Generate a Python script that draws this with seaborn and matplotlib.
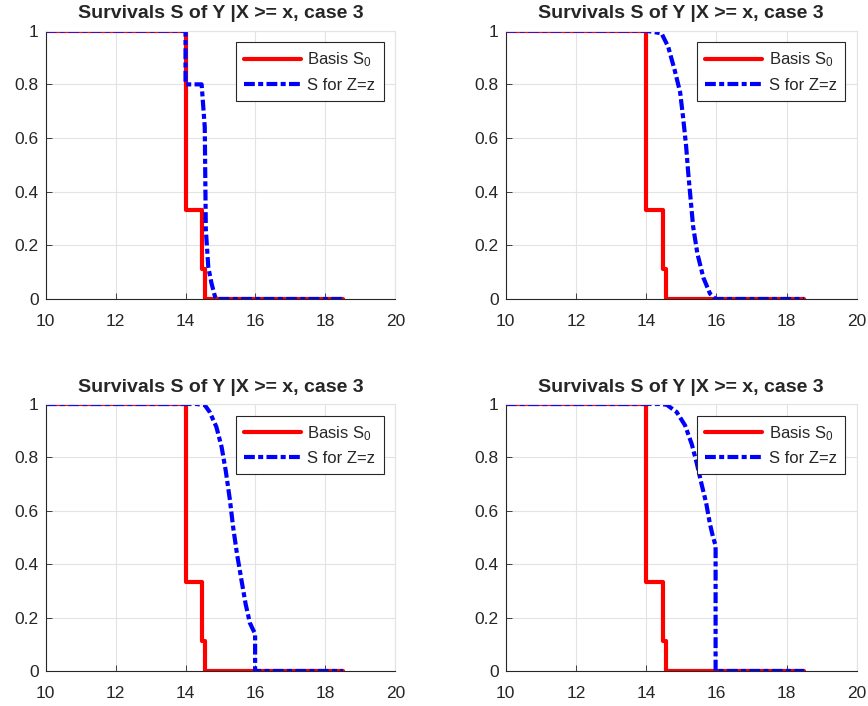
import matplotlib
matplotlib.use("Agg")
import matplotlib.pyplot as plt
import seaborn as sns
import pandas as pd
import numpy as np

sns.set_theme(style="whitegrid")
plt.rcParams['font.family'] = ['Liberation Sans', 'DejaVu Sans']
plt.rcParams['mathtext.fontset'] = 'custom'
plt.rcParams['mathtext.rm'] = 'Liberation Sans'
plt.rcParams['mathtext.it'] = 'Liberation Sans'
plt.rcParams['mathtext.default'] = 'regular'

title = "Survivals S of Y |X >= x, case 3"
label_basis = "Basis S$_0$"
label_z = "S for Z=z"

# Baseline survival (same in all four panels)
basis_x = [10, 14.0, 14.0, 14.48, 14.48, 14.57, 14.57, 18.5]
basis_y = [1, 1, 1/3, 1/3, 1/9, 1/9, 0, 0]

# S for Z=z, one per panel
z1_x = [10, 14.0, 14.0, 14.46, 14.55, 14.58, 14.65, 14.74, 14.84, 14.9, 18.5]
z1_y = [1, 1, 0.8, 0.8, 0.64, 0.26, 0.12, 0.06, 0.01, 0, 0]

z2_x = [10, 14.0, 14.44, 14.63, 14.82, 14.97, 15.06, 15.14, 15.20, 15.27,
        15.34, 15.46, 15.63, 15.82, 15.98, 18.5]
z2_y = [1, 1, 0.99, 0.94, 0.85, 0.77, 0.67, 0.57, 0.47, 0.37,
        0.27, 0.17, 0.08, 0.02, 0, 0]

z3_x = [10, 14.0, 14.31, 14.55, 14.69, 14.88, 15.03, 15.15, 15.27, 15.36,
        15.47, 15.60, 15.72, 15.84, 15.93, 15.99, 15.99, 18.5]
z3_y = [1, 1, 1, 0.996, 0.97, 0.915, 0.84, 0.75, 0.64, 0.54,
        0.44, 0.34, 0.25, 0.18, 0.155, 0.14, 0, 0]

z4_x = [10, 14.0, 14.40, 14.59, 14.87, 15.11, 15.30, 15.44, 15.58, 15.71,
        15.82, 15.91, 15.98, 15.98, 18.5]
z4_y = [1, 1, 1, 0.997, 0.97, 0.92, 0.85, 0.78, 0.70, 0.63,
        0.55, 0.50, 0.47, 0, 0]

xticks = [10, 12, 14, 16, 18, 20]
yticks = [0, 0.2, 0.4, 0.6, 0.8, 1]
yticklabels = ["0", "0.2", "0.4", "0.6", "0.8", "1"]

panels = [(z1_x, z1_y), (z2_x, z2_y), (z3_x, z3_y), (z4_x, z4_y)]

fig = plt.figure(figsize=(8.68, 7.06), dpi=100)
lefts = [45.7 / 868, 505.7 / 868]
widths = [(395.3 - 45.7) / 868, (856.7 - 505.7) / 868]
tops = [30.7, 404]
bottoms = [299, 671]

GRID = "#e3e3e3"
AX = "#262626"

for i, (zx, zy) in enumerate(panels):
    r, c = divmod(i, 2)
    ax = fig.add_axes([lefts[c], 1 - bottoms[r] / 706, widths[c],
                       (bottoms[r] - tops[r]) / 706])
    dfb = pd.DataFrame({"x": basis_x, "y": basis_y})
    dfz = pd.DataFrame({"x": zx, "y": zy})
    sns.lineplot(data=dfb, x="x", y="y", ax=ax, color="#ff0000", lw=3,
                 sort=False, estimator=None, label=label_basis)
    sns.lineplot(data=dfz, x="x", y="y", ax=ax, color="#0000ff", lw=3,
                 sort=False, estimator=None, label=label_z)
    ax.lines[-1].set_dashes([2.6, 0.8, 1.2, 0.8])
    ax.set_xlim(10, 20)
    ax.set_ylim(0, 1)
    ax.set_xticks(xticks)
    ax.set_yticks(yticks)
    ax.set_yticklabels(yticklabels)
    ax.set_xlabel("")
    ax.set_ylabel("")
    ax.set_title(title, fontsize=14, fontweight="bold", pad=9)
    ax.grid(True, color=GRID, lw=0.8)
    ax.set_facecolor("white")
    for k, s in ax.spines.items():
        s.set_linewidth(0.8)
        s.set_color(AX if k in ("left", "bottom") else GRID)
    ax.tick_params(axis="both", direction="in", length=4, width=0.6,
                   colors=AX, labelsize=12.5,
                   top=False, right=False, bottom=True, left=True)
    ax.tick_params(axis="x", pad=10.5)
    ax.tick_params(axis="y", pad=5)
    leg = ax.legend(loc="upper right", fontsize=12, frameon=True,
                    fancybox=False, edgecolor=AX, framealpha=1,
                    handlelength=3.4, handletextpad=0.4,
                    borderpad=0.5, labelspacing=0.5,
                    borderaxespad=0.7)
    leg.get_frame().set_linewidth(0.8)
    for l in leg.get_lines():
        l.set_linewidth(3)

fig.savefig("out.png", dpi=100, facecolor="white")
